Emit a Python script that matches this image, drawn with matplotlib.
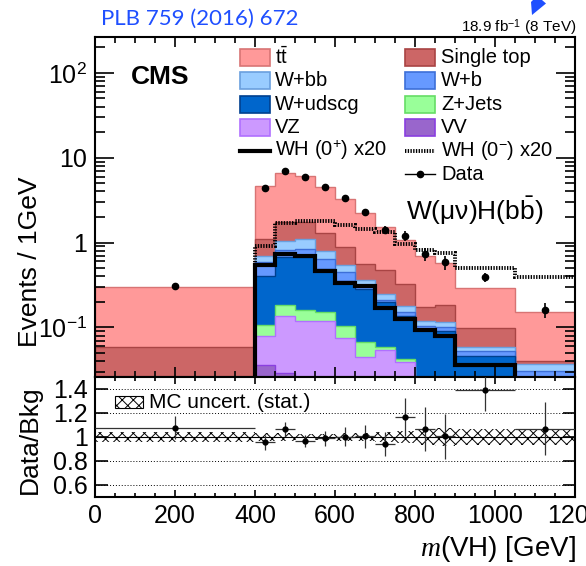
import numpy as np
import matplotlib
matplotlib.use('Agg')
import matplotlib.pyplot as plt
from matplotlib.patches import Rectangle, Polygon
from matplotlib.lines import Line2D
from matplotlib.ticker import FixedLocator, LogLocator, FuncFormatter, MultipleLocator, NullFormatter, NullLocator

plt.rcParams['font.family'] = ['Liberation Sans', 'DejaVu Sans']
plt.rcParams['mathtext.fontset'] = 'custom'
plt.rcParams['mathtext.rm'] = 'Liberation Sans'
plt.rcParams['mathtext.it'] = 'Liberation Serif:italic'
plt.rcParams['mathtext.bf'] = 'Liberation Sans:bold'
plt.rcParams['hatch.linewidth'] = 0.7
plt.rcParams['hatch.color'] = 'black'

# bins of m(VH) in GeV
edges = [0, 400, 450, 500, 550, 600, 650, 700, 750, 800, 850, 900, 1050, 1200]

# backgrounds, events / 1 GeV (stacked bottom -> top: vv, vz, z_jets, w_udscg, w_b, w_bb, single_top, ttbar)
vv = [0.005, 0.0357, 0.0288, 0.018, 0.018, 0.012, 0.008, 0.006, 0.005, 0.004, 0.004, 0.002, 0.001]
vz = [0.005, 0.0427, 0.108, 0.101, 0.101, 0.0637, 0.0364, 0.0487, 0.0341, 0.016, 0.014, 0.006, 0.004]
z_jets = [0.002, 0.0272, 0.0445, 0.0426, 0.0324, 0.027, 0.0227, 0.0046, 0.0037, 0.002, 0.002, 0.001, 0.001]
w_udscg = [0.003, 0.303, 0.502, 0.509, 0.339, 0.254, 0.218, 0.139, 0.095, 0.072, 0.070, 0.0366, 0.016]
w_b = [0.003, 0.177, 0.137, 0.172, 0.153, 0.090, 0.027, 0.014, 0.013, 0.0096, 0.0106, 0.0066, 0.0084]
w_bb = [0.002, 0.117, 0.235, 0.262, 0.162, 0.104, 0.045, 0.037, 0.027, 0.0154, 0.0144, 0.0068, 0.0063]
single_top = [0.038, 0.411, 0.710, 0.661, 0.506, 0.346, 0.209, 0.220, 0.143, 0.053, 0.071, 0.040, 0.0031]
ttbar = [0.238, 3.58, 4.89, 4.37, 3.25, 2.39, 1.68, 1.07, 0.739, 0.528, 0.394, 0.189, 0.114]

# signal templates x20
wh_plus = [0.001, 0.551, 0.723, 0.694, 0.456, 0.338, 0.304, 0.170, 0.124, 0.0922, 0.0794, 0.0357, 0.01]
wh_minus = [0.001, 0.922, 1.72, 1.79, 1.81, 1.63, 1.46, 1.32, 0.965, 0.823, 0.752, 0.501, 0.391]

# data
data = [0.306, 4.40, 6.90, 5.87, 4.48, 3.32, 2.27, 1.42, 1.21, 0.736, 0.587, 0.391, 0.162]
data_err = [0.028, 0.28, 0.36, 0.31, 0.29, 0.27, 0.21, 0.15, 0.165, 0.125, 0.11, 0.051, 0.033]

# ratio panel
ratio = [1.076, 0.955, 1.067, 0.964, 0.99, 1.002, 1.005, 0.941, 1.166, 1.067, 1.005, 1.393, 1.07]
ratio_err = [0.095, 0.06, 0.056, 0.05, 0.063, 0.08, 0.095, 0.1, 0.159, 0.18, 0.19, 0.18, 0.218]
mc_err = [0.045, 0.03, 0.03, 0.025, 0.025, 0.03, 0.035, 0.04, 0.05, 0.07, 0.075, 0.07, 0.065]

W, H = 586, 566


def fx(x):
    return x / W


def fy(y):
    return 1 - y / H


edges = np.array(edges, dtype=float)
centers = 0.5 * (edges[1:] + edges[:-1])
halfw = 0.5 * (edges[1:] - edges[:-1])

layers = [
    ('VV', vv, '#9966cc', '#8a3fe0'),
    ('VZ', vz, '#cc99ff', '#b070ff'),
    ('Z+Jets', z_jets, '#99ff99', '#66dd66'),
    ('W+udscg', w_udscg, '#0066cc', '#00408f'),
    ('W+b', w_b, '#6699ff', '#3d6fd8'),
    ('W+bb', w_bb, '#99ccff', '#6a9fde'),
    ('Single top', single_top, '#cc6666', '#a94444'),
    (r't$\bar{\rm t}$', ttbar, '#ff9999', '#d87474'),
]
dots = (0, (0.35, 0.35))

fig = plt.figure(figsize=(W / 100, H / 100), dpi=100)
ax = fig.add_axes([fx(95), fy(377), (575 - 95) / W, (377 - 37) / H])
ax2 = fig.add_axes([fx(95), fy(497), (575 - 95) / W, (497 - 377) / H])

# stack, drawn from the top like THStack
cum = np.zeros(len(centers))
tops = []
for name, vals, fc, ec in layers:
    cum = cum + np.array(vals)
    tops.append(cum.copy())
for (name, vals, fc, ec), top in reversed(list(zip(layers, tops))):
    ax.stairs(top, edges, baseline=1e-4, fill=True, facecolor=fc, edgecolor=ec, lw=1.0)

ax.stairs(wh_plus, edges, baseline=None, color='k', lw=3.0)
ax.stairs(wh_minus, edges, baseline=None, color='k', lw=2.8, linestyle=dots)
ax.errorbar(centers, data, yerr=data_err, fmt='o', color='k', ms=4.5, elinewidth=1.2, capsize=0, zorder=5)

ax.set_yscale('log')
ax.set_xlim(0, 1200)
ax.set_ylim(0.026, 265)


def ylab(v, pos):
    e = int(round(np.log10(v)))
    if e == 0:
        return '1'
    if e == 1:
        return '10'
    return r'$10^{%d}$' % e


ax.yaxis.set_major_locator(FixedLocator([0.1, 1, 10, 100]))
ax.yaxis.set_major_formatter(FuncFormatter(ylab))
ax.yaxis.set_minor_locator(LogLocator(base=10, subs=np.arange(2, 10)))
ax.yaxis.set_minor_formatter(NullFormatter())
ax.xaxis.set_major_locator(MultipleLocator(200))
ax.xaxis.set_minor_locator(MultipleLocator(50))
ax.tick_params(axis='x', which='both', labelbottom=False)
ax.tick_params(which='both', direction='in', top=True, right=True, width=1.2)
ax.tick_params(axis='x', which='major', length=7)
ax.tick_params(axis='x', which='minor', length=4)
ax.tick_params(axis='y', which='major', length=14, labelsize=18, pad=6)
ax.tick_params(axis='y', which='minor', length=7)
for s in ax.spines.values():
    s.set_linewidth(1.5)

# ratio
ax2.stairs(1 + np.array(mc_err), edges, baseline=1 - np.array(mc_err), fill=True,
           facecolor='none', edgecolor='k', hatch='xxx', lw=0)
ax2.axhline(1, color='k', lw=0.8)
ax2.errorbar(centers, ratio, xerr=halfw, yerr=ratio_err, fmt='o', color='k', ecolor='#333333',
             ms=3.5, elinewidth=0.9, capsize=0, zorder=5)
ax2.set_xlim(0, 1200)
ax2.set_ylim(0.5, 1.5)
ax2.yaxis.set_major_locator(FixedLocator([0.6, 0.8, 1.0, 1.2, 1.4]))
ax2.yaxis.set_major_formatter(FuncFormatter(lambda v, p: '%g' % v))
ax2.yaxis.set_minor_locator(NullLocator())
ax2.yaxis.grid(True, linestyle=(0, (1, 2)), color='k', lw=0.7)
ax2.xaxis.set_major_locator(MultipleLocator(200))
ax2.xaxis.set_minor_locator(MultipleLocator(50))
ax2.tick_params(which='both', direction='in', top=True, right=True, width=1.2)
ax2.tick_params(axis='x', which='major', length=5, labelsize=18, pad=5)
ax2.tick_params(axis='x', which='minor', length=3)
ax2.tick_params(axis='y', which='major', length=9, labelsize=18, pad=5)
for s in ax2.spines.values():
    s.set_linewidth(1.5)

# legend (two columns, filled by hand)
col1 = [layers[7], layers[5], layers[3], layers[1]]
col2 = [layers[6], layers[4], layers[2], layers[0]]
row_y = [57.5 + 23.3 * i for i in range(6)]
for col, bx, tx in [(col1, 240, 275), (col2, 405, 441)]:
    for i, (name, vals, fc, ec) in enumerate(col):
        fig.add_artist(Rectangle((fx(bx), fy(row_y[i] + 8.5)), 30 / W, 17 / H, transform=fig.transFigure,
                                 facecolor=fc, edgecolor=ec, lw=1.2))
        fig.text(fx(tx), fy(row_y[i]), name, fontsize=14.5, va='center', ha='left')
fig.add_artist(Line2D([fx(240), fx(270)], [fy(row_y[4])] * 2, color='k', lw=3.0))
fig.text(fx(275), fy(row_y[4]), 'WH (0$^{+}$) x20', fontsize=14.5, va='center', ha='left')
fig.add_artist(Line2D([fx(405), fx(435)], [fy(row_y[4])] * 2, color='k', lw=2.8, linestyle=dots))
fig.text(fx(441), fy(row_y[4]), 'WH (0$^{-}$) x20', fontsize=14.5, va='center', ha='left')
fig.add_artist(Line2D([fx(405), fx(435)], [fy(row_y[5])] * 2, color='k', lw=1.0))
fig.add_artist(Line2D([fx(420)], [fy(row_y[5])], color='k', marker='o', ms=4.5))
fig.text(fx(441), fy(row_y[5]), 'Data', fontsize=14.5, va='center', ha='left')

# ratio legend
fig.add_artist(Rectangle((fx(115), fy(408)), 28 / W, 12 / H, transform=fig.transFigure,
                         facecolor='white', edgecolor='k', hatch='xxx', lw=0.8))
fig.text(fx(149), fy(402), 'MC uncert. (stat.)', fontsize=15, va='center', ha='left')

# labels
fig.text(fx(160), fy(77), 'CMS', fontsize=19, fontweight='bold', ha='center', va='center')
fig.text(fx(406), fy(211), r'W(μν)H(b$\bar{\rm b}$)', fontsize=19, ha='left', va='center')
fig.text(fx(576), fy(32), r'18.9 fb$^{-1}$ (8 TeV)', fontsize=11, ha='right', va='baseline')
fig.text(fx(30), fy(262), 'Events / 1GeV', fontsize=19, rotation=90, ha='center', va='center')
fig.text(fx(30), fy(440), 'Data/Bkg', fontsize=19, rotation=90, ha='center', va='center')
fig.text(fx(576), fy(549), r'$m$(VH) [GeV]', fontsize=20, ha='right', va='center')
fig.text(fx(101), fy(19), 'PLB 759 (2016) 672', fontsize=16, color='#1f4fff', family='Lato',
         ha='left', va='center')
fig.add_artist(Polygon([(fx(533), fy(0)), (fx(542), fy(0)), (fx(546), fy(3.5)), (fx(532), fy(15)),
                        (fx(531), fy(2))], closed=True, transform=fig.transFigure,
                       facecolor='#1f4fff', edgecolor='none'))

fig.savefig('out.png', dpi=100)
